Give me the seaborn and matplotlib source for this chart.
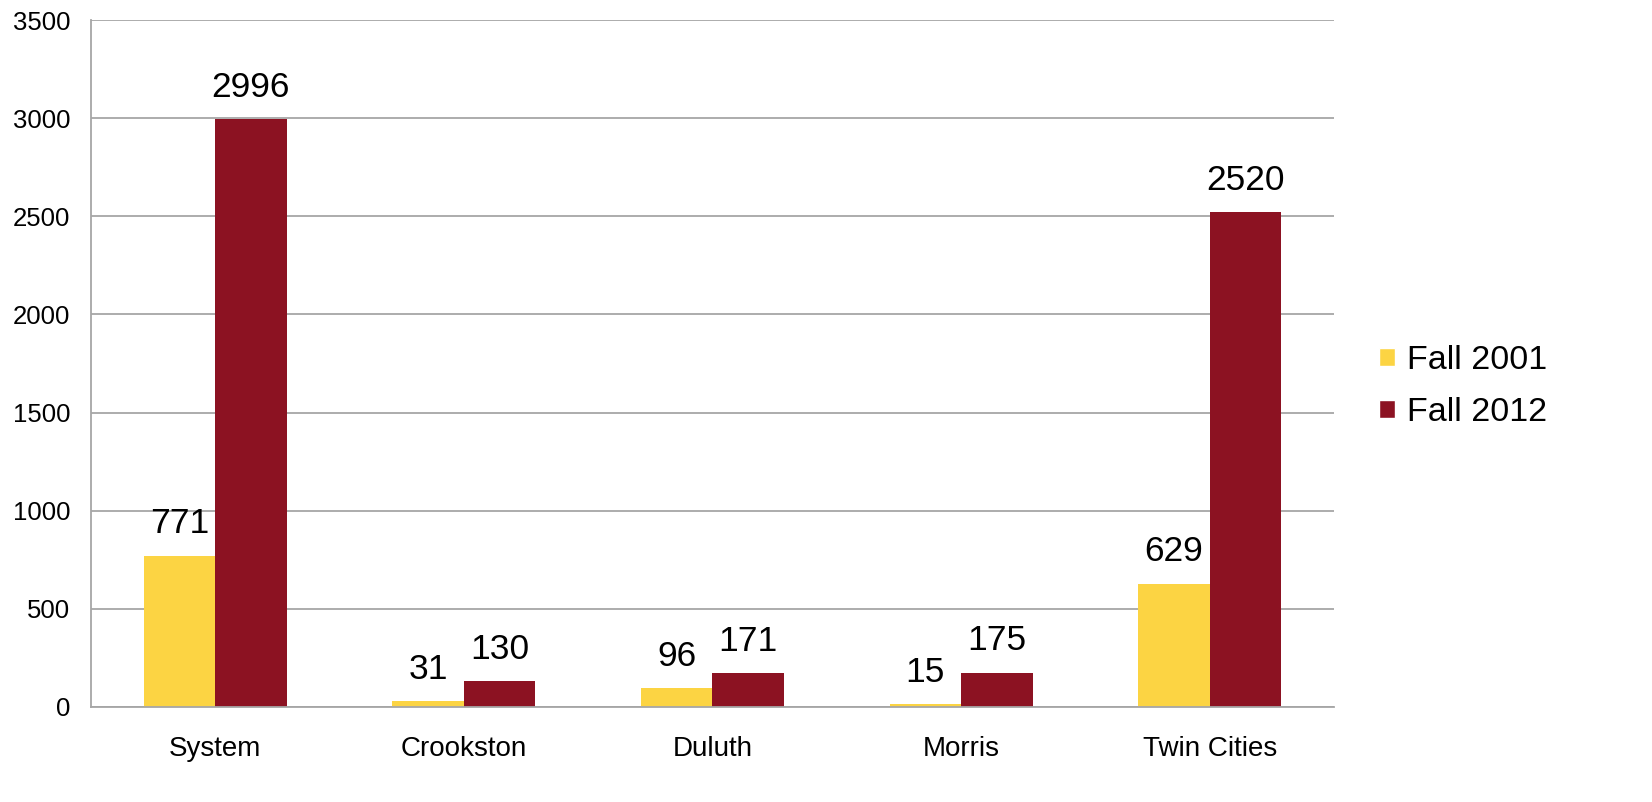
import pandas as pd
import matplotlib
matplotlib.use("Agg")
import matplotlib.pyplot as plt
import seaborn as sns
from matplotlib.patches import Patch

campuses = ["System", "Crookston", "Duluth", "Morris", "Twin Cities"]
fall_2001 = [771, 31, 96, 15, 629]
fall_2012 = [2996, 130, 171, 175, 2520]
series = ["Fall 2001", "Fall 2012"]
colors = ["#FCD443", "#8C1222"]

df = pd.DataFrame({
    "campus": campuses * 2,
    "value": fall_2001 + fall_2012,
    "series": [series[0]] * len(campuses) + [series[1]] * len(campuses),
})

sns.set_style("white")
plt.rcParams["font.family"] = ["Liberation Sans", "DejaVu Sans"]
plt.rcParams["text.color"] = "black"
plt.rcParams["xtick.color"] = "black"
plt.rcParams["ytick.color"] = "black"

fig = plt.figure(figsize=(16.52, 8.02), dpi=100)
ax = fig.add_axes([0.055, 0.1185, 0.7525, 0.8565])

sns.barplot(data=df, x="campus", y="value", hue="series", palette=colors,
            width=0.575, gap=0, saturation=1, ax=ax, legend=False,
            errorbar=None, linewidth=0, edgecolor="none")

for cont in ax.containers:
    ax.bar_label(cont, fmt="%d", padding=11, fontsize=25.5, color="black")

ax.set_ylim(0, 3500)
ax.set_yticks(range(0, 3501, 500))
ax.set_xlim(-0.5, 4.5)
ax.yaxis.grid(True, color="#A6A6A6", linewidth=1.3)
ax.set_axisbelow(True)
ax.set_xlabel("")
ax.set_ylabel("")

for side in ["top", "right"]:
    ax.spines[side].set_visible(False)
for side in ["left", "bottom"]:
    ax.spines[side].set_color("#A6A6A6")
    ax.spines[side].set_linewidth(1.3)

ax.tick_params(axis="y", length=6, color="#A6A6A6", width=1.3, labelsize=18.5, pad=9)
ax.tick_params(axis="x", which="major", length=0, labelsize=20, pad=21)
ax.set_xticks([i - 0.5 for i in range(len(campuses) + 1)], minor=True)
ax.tick_params(axis="x", which="minor", length=6, color="#A6A6A6", width=1.3)

handles = [Patch(facecolor=c, label=s) for c, s in zip(colors, series)]
fig.legend(handles=handles, loc="center left", bbox_to_anchor=(0.8165, 0.518),
           frameon=False, fontsize=24.5, handlelength=0.45, handleheight=0.45,
           handletextpad=0.35, labelspacing=0.62)

fig.savefig("out.png", dpi=100)
